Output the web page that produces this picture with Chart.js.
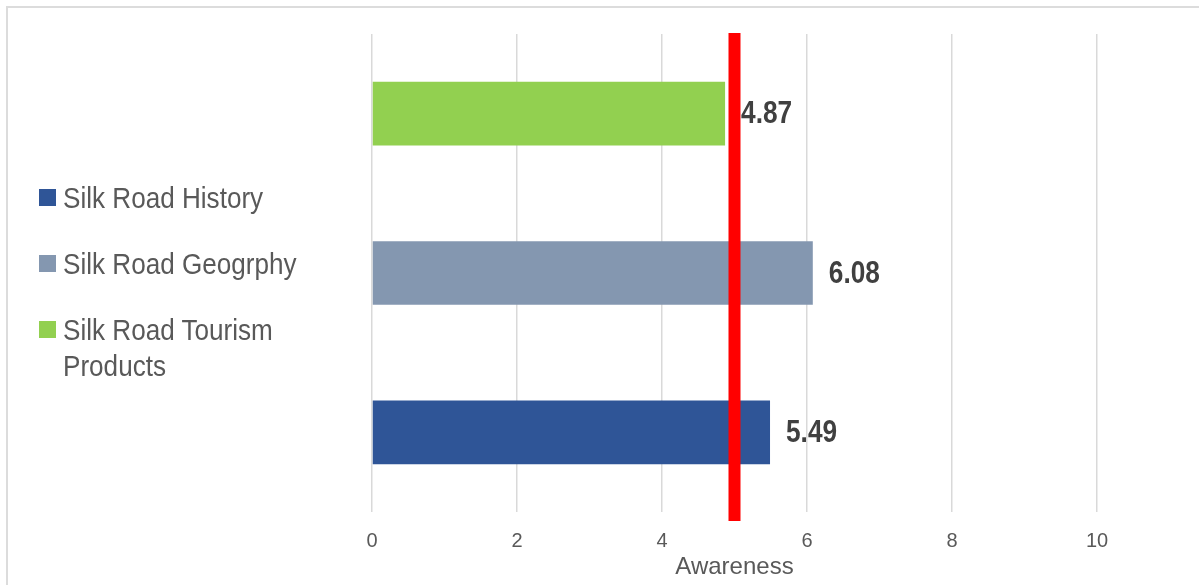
<!DOCTYPE html>
<html>
<head>
<meta charset="utf-8">
<script src="https://cdn.jsdelivr.net/npm/chart.js@4/dist/chart.umd.min.js"></script>
<style>
  html, body { margin: 0; padding: 0; background: #fff; overflow: hidden; }
  #wrap { position: relative; width: 1199px; height: 585px; }
  #frame { position: absolute; left: 6px; top: 6px; width: 1300px; height: 700px; border: 2px solid #dcdcdc; box-sizing: border-box; }
  #chart { position: absolute; left: 0; top: 0; }
  #legend { position: absolute; left: 39px; top: 180px; font-family: 'Liberation Sans', Arial, sans-serif; font-size: 30px; color: #595959; }
  .item { display: flex; align-items: flex-start; margin-bottom: 30px; }
  .box { width: 17px; height: 17px; margin-top: 9px; margin-right: 7px; flex: none; }
  /* the original font is a narrow one, squeeze the text instead */
  .txt { line-height: 36px; width: 300px; transform: scaleX(0.87); transform-origin: 0 0; }
</style>
</head>
<body>
<div id="wrap">
  <div id="frame"></div>
  <canvas id="chart" width="1199" height="585"></canvas>
  <div id="legend"></div>
</div>
<script>
const seriesNames = ['Silk Road History', 'Silk Road Geogrphy', 'Silk Road Tourism Products'];
const seriesValues = [5.49, 6.08, 4.87];
const seriesColors = ['#2F5597', '#8497B0', '#92D050'];
const xTicks = [0, 2, 4, 6, 8, 10];
const thresholdValue = 5;
const axisTitle = 'Awareness';

const fontFamily = "'Liberation Sans', Arial, sans-serif";
const squeeze = 0.82;

// one dataset per series, each only has a value in its own row
const datasets = seriesNames.map((name, i) => ({
  label: name,
  data: seriesNames.map((_, j) => (j === i ? seriesValues[i] : null)),
  backgroundColor: seriesColors[i],
  borderWidth: 0,
  categoryPercentage: 1,
  barPercentage: 0.4
}));

// red reference line at the threshold
const thresholdLine = {
  id: 'thresholdLine',
  afterDatasetsDraw(chart) {
    const { ctx, chartArea, scales } = chart;
    const px = scales.x.getPixelForValue(thresholdValue);
    ctx.save();
    ctx.fillStyle = '#FF0000';
    ctx.fillRect(px - 6, chartArea.top - 1, 12, chartArea.bottom - chartArea.top + 10);
    ctx.restore();
  }
};

// value labels at the end of each bar
const valueLabels = {
  id: 'valueLabels',
  afterDatasetsDraw(chart) {
    const { ctx } = chart;
    ctx.save();
    ctx.scale(squeeze, 1);
    ctx.font = 'bold 32px ' + fontFamily;
    ctx.fillStyle = '#404040';
    ctx.textAlign = 'left';
    ctx.textBaseline = 'middle';
    chart.data.datasets.forEach((ds, i) => {
      const meta = chart.getDatasetMeta(i);
      meta.data.forEach((bar, j) => {
        if (ds.data[j] == null) return;
        ctx.fillText(ds.data[j].toFixed(2), (bar.x + 16) / squeeze, bar.y + 1);
      });
    });
    ctx.restore();
  }
};

new Chart(document.getElementById('chart'), {
  type: 'bar',
  data: { labels: seriesNames, datasets: datasets },
  options: {
    indexAxis: 'y',
    responsive: false,
    animation: false,
    layout: { padding: { left: 372, right: 102, top: 34, bottom: 0 } },
    plugins: {
      legend: { display: false },
      tooltip: { enabled: false }
    },
    scales: {
      y: {
        display: false,
        stacked: true,
        reverse: true
      },
      x: {
        min: xTicks[0],
        max: xTicks[xTicks.length - 1],
        afterBuildTicks(scale) {
          scale.ticks = xTicks.map(v => ({ value: v }));
        },
        afterFit(scale) { scale.height = 73; },
        grid: { color: '#d9d9d9', lineWidth: 1.5, drawTicks: false },
        border: { display: false },
        ticks: {
          color: '#595959',
          padding: 17,
          font: { family: fontFamily, size: 20 }
        },
        title: {
          display: true,
          text: axisTitle,
          color: '#595959',
          padding: { top: 0, bottom: 3 },
          font: { family: fontFamily, size: 24 }
        }
      }
    }
  },
  plugins: [thresholdLine, valueLabels]
});

// legend as html, same order as the reference
const legend = document.getElementById('legend');
seriesNames.forEach((name, i) => {
  const item = document.createElement('div');
  item.className = 'item';
  const box = document.createElement('div');
  box.className = 'box';
  box.style.background = seriesColors[i];
  const txt = document.createElement('div');
  txt.className = 'txt';
  txt.textContent = name;
  item.appendChild(box);
  item.appendChild(txt);
  legend.appendChild(item);
});
</script>
</body>
</html>
